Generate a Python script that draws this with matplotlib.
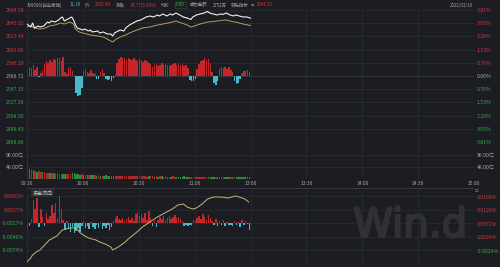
import matplotlib
matplotlib.use("Agg")
import matplotlib.pyplot as plt
import matplotlib.patheffects as pe

plt.rcParams['font.family'] = ['Noto Sans CJK SC', 'DejaVu Sans']

# ---------------- data ----------------
prev_close = 2566.72
price_ticks = [2664.58, 2645.01, 2625.44, 2605.86, 2586.29, 2566.72,
               2547.15, 2527.58, 2508.00, 2488.43, 2468.86]
price_labels = ["2664.58", "2645.02", "2625.44", "2605.86", "2586.28", "2566.72",
                "2547.15", "2527.58", "2508.00", "2488.43", "2468.86"]
pct_labels = ["3.81%", "3.05%", "2.29%", "1.53%", "0.76%", "0.00%",
              "0.76%", "1.53%", "2.29%", "3.05%", "3.81%"]

time_ticks = [0, 30, 60, 90, 120, 150, 180, 210, 240]
time_labels = ["09:30", "10:00", "10:30", "11:00", "13:00", "13:30", "14:00", "14:30", "15:00"]

price_t = [0, 2, 3, 4, 6, 7, 9, 10, 11, 12, 13, 15, 17, 18, 19, 20, 22, 24, 25, 26, 27,
           30, 31, 33, 34, 35, 38, 39, 41, 43, 45, 46, 47, 48, 50, 52, 53, 55, 57, 59,
           61, 62, 64, 66, 68, 70, 71, 73, 75, 77, 78, 80, 82, 84, 86, 88, 89, 91, 93,
           95, 97, 98, 100, 102, 104, 105, 107, 109, 111, 112, 114, 116, 118, 120]
price_v = [2643.8, 2639.4, 2645.3, 2637.9, 2640.9, 2639.4, 2640.9, 2643.8, 2646.8, 2645.3,
           2648.3, 2646.8, 2649.8, 2652.7, 2654.2, 2648.3, 2651.2, 2654.2, 2649.8, 2642.3,
           2637.9, 2634.9, 2636.4, 2633.4, 2634.9, 2632.0, 2633.4, 2630.5, 2632.0, 2629.0,
           2629.0, 2626.0, 2630.5, 2632.0, 2634.9, 2633.4, 2637.9, 2642.3, 2645.3, 2648.3,
           2649.8, 2651.2, 2654.2, 2655.7, 2654.2, 2657.2, 2655.7, 2658.7, 2655.7, 2658.7,
           2657.2, 2660.1, 2657.2, 2654.2, 2652.7, 2650.5, 2654.2, 2657.2, 2658.7, 2660.1,
           2662.4, 2660.1, 2658.7, 2657.2, 2658.7, 2658.0, 2660.1, 2657.2, 2655.7, 2657.2,
           2655.7, 2654.2, 2654.2, 2652.49]

lead_t = [0, 2, 4, 7, 10, 12, 15, 18, 20, 23, 25, 26, 28, 30, 34, 38, 41, 43, 46, 48,
          50, 53, 55, 59, 62, 66, 70, 73, 77, 80, 83, 86, 88, 90, 93, 97, 100, 104,
          107, 110, 113, 116, 120]
lead_v = [2639.4, 2640.9, 2637.9, 2636.4, 2637.9, 2640.9, 2642.3, 2645.3, 2643.8, 2646.8,
          2643.8, 2636.4, 2632.0, 2630.5, 2627.5, 2626.0, 2624.5, 2621.6, 2617.1, 2621.6,
          2624.5, 2627.5, 2630.5, 2634.9, 2637.9, 2639.4, 2642.3, 2643.8, 2646.0, 2648.3,
          2645.3, 2642.3, 2639.4, 2640.9, 2643.8, 2646.8, 2647.5, 2649.0, 2649.8, 2647.5,
          2646.0, 2643.8, 2641.55]

# strength bars around previous close (index points), one per minute 09:30-11:29
strength = [10, 14, 12, 16, 9, 13, -2, 4, 8,
            18, 22, 20, 24, 21, 25, 23, 26, 27, 22, 28,
            6, 3, 12, 14, 8, 2, -25, -30, -28, -18,
            8, 10, 6, 4, 9, 5, 3, -5, -4, 6, 11, 4,
            -4, -6, -5, -7, -3, 2,
            20, 25, 28, 27, 26, 24, 27, 25, 23, 26, 24, 22, 25, 23, 21, 24, 22, 20, 18,
            14, 16, 18, 15, 17, 19, 16, 18, 17, 15, 16, 18, 20, 17, 19, 16, 18, 15, 17, 12,
            -6, -8, -7, -4,
            10, 18, 22, 24, 26, 23, 25, 20, 6,
            -10, -13, -8,
            10, 13, 12, 14, 11, 13, 9, 6,
            -7, -12, -10, -5,
            5, 8, 7, 9, 6]

# volume (亿), one per minute
volume = [100, 42, 38, 35, 33, 30, 32, 28, 27, 29,
          26, 25, 24, 26, 23, 22, 24, 21, 22, 20,
          21, 19, 20, 22, 24, 23, 21, 20, 18, 19,
          18, 17, 16, 17, 15, 16, 15, 14, 15, 14,
          14, 13, 15, 14, 13, 12, 14, 13, 12, 13,
          12, 14, 13, 12, 11, 12, 13, 12, 11, 12,
          12, 11, 12, 11, 10, 11, 12, 11, 10, 11,
          10, 11, 12, 10, 11, 10, 9, 10, 11, 10,
          9, 10, 9, 10, 11, 10, 9, 10, 9, 10,
          10, 9, 10, 9, 8, 9, 10, 9, 8, 9,
          8, 9, 10, 8, 9, 8, 9, 8, 7, 8,
          9, 8, 7, 8, 9, 8, 7, 8, 7, 9]
volume_dir = ("RGRGRGRRGR" "RRGRGRRRRG" "GRRRGGGGGR" "GRGRGGRGRG" "RGGGGGGRRR"
              "RRRRRRRRRR" "RRRRRGRRGR" "GRGRRGRGRR" "GGGGGGGRRR" "RRRRRRRGGG"
              "GRGRRRGGGR" "GRGGGGGGGG")
vol_ticks = [96, 48]
vol_labels = ["96.00亿", "48.00亿"]

# fund flow bars (units of 0.0001%), one per minute
flow = [-16, -6, 8, 48, 30, 52, -8, 30, 12, -6,
        20, 8, 14, 38, 20, 42, 10, 56, 30, 6,
        -14, 4, -12, -18, -8, -20, -16, -10, -18, -6,
        4, -10, -6, -12, 3, -8, -12, -4, -10, 3,
        -12, -6, -10, -4, -14, -8, 4, 10, 14, 8,
        6, 10, 4, 8, 12, 6, 10, 4, 18, 22,
        14, 18, 10, 20, 6, 24, 10, -6, 4, -8,
        6, 12, 8, 14, 6, 10, 14, 8, 12, 16,
        10, 12, 8, 4, -6, -4, -6, -5, -4, 6,
        4, 10, 14, 8, 18, 12, 6, 16, 10, 4,
        -4, 8, -6, 4, -4, 6, -6, 3, -5, -4,
        -6, 4, -4, 3, -8, 6, -4, 5, -3, -14]
flow_ticks = [56, 28, 0, -28, -56]
flow_labels = ["0.0083%", "0.0027%", "-0.0027%", "-0.0040%", "-0.0074%"]

cum_t = [0, 2, 3, 5, 7, 9, 10, 12, 14, 16, 18, 19, 21, 23, 25, 27, 28, 31, 33, 37,
         39, 42, 45, 46, 49, 52, 55, 59, 62, 66, 70, 74, 78, 81, 84, 86, 89, 91, 94,
         97, 100, 104, 108, 112, 114, 117, 119]
cum_v = [-63.1, -48.9, -38.2, -27.6, -20.5, -6.2, 0.9, 15.1, 22.2, 29.3, 43.5, 50.7,
         54.2, 57.8, 57.8, 54.2, 43.5, 29.3, 22.2, 15.1, 8.0, 0.9, -9.8, -20.5, -9.8,
         4.4, 22.2, 43.5, 61.3, 79.1, 96.9, 111.1, 125.3, 139.6, 143.1, 132.4, 125.3,
         128.9, 143.1, 160.9, 168.0, 168.0, 164.4, 171.6, 168.0, 160.9, 150.2]
cum_ticks = [168, 120, 72, 24, -24]
cum_labels = ["0.0168%", "0.0120%", "0.0072%", "0.0024%", "-0.0024%"]

# ---------------- style ----------------
BG = "#1b1d22"
GRID = "#2a2d33"
MID = "#3c3f46"
RED_T = "#d6363d"
GRN_T = "#3aa84a"
GRAY_T = "#a8a8a8"
RED_B = "#c4262c"
CYAN_B = "#4ab8c6"
YEL = "#b99a5c"
WM = "#2f3136"

W, H = 500, 267
fig = plt.figure(figsize=(W / 100, H / 100), dpi=100, facecolor=BG)


def ax_at(x0, y0, x1, y1):
    a = fig.add_axes([x0 / W, 1 - y1 / H, (x1 - x0) / W, (y1 - y0) / H])
    a.set_facecolor(BG)
    for s in a.spines.values():
        s.set_visible(False)
    a.set_xlim(0, 240)
    return a


def vgrid(a):
    for t in time_ticks[1:-1]:
        a.axvline(t, color=GRID, lw=0.5, zorder=0)


FS = 3.7
HFS = 3.2

# ---- price panel ----
ax = ax_at(27, 10, 474, 142)
ax.set_ylim(price_ticks[-1], price_ticks[0])
for v in price_ticks:
    ax.axhline(v, color=MID if v in (prev_close, price_ticks[-1]) else GRID, lw=0.5, zorder=0)
vgrid(ax)
ax.bar(range(len(strength)), strength, bottom=prev_close, width=0.8, align='edge',
       color=[RED_B if s > 0 else CYAN_B for s in strength], linewidth=0, zorder=2)
ax.plot(lead_t, lead_v, color=YEL, lw=0.7, zorder=3)
ax.plot(price_t, price_v, color="#f2f2f2", lw=0.8, zorder=4)
ax.set_xticks([])
ax.set_yticks(price_ticks)
ax.set_yticklabels(price_labels)
ax.tick_params(axis='y', length=0, pad=2, labelsize=FS)
cols = [RED_T] * 5 + [GRAY_T] + [GRN_T] * 5
for lbl, c in zip(ax.get_yticklabels(), cols):
    lbl.set_color(c)
axr = ax.twinx()
for s in axr.spines.values():
    s.set_visible(False)
axr.set_ylim(ax.get_ylim())
axr.set_yticks(price_ticks)
axr.set_yticklabels(pct_labels)
axr.tick_params(axis='y', length=0, pad=2, labelsize=FS)
for lbl, c in zip(axr.get_yticklabels(), cols):
    lbl.set_color(c)

# ---- volume panel ----
av = ax_at(27, 142, 474, 179)
av.set_ylim(0, 148)
for v in vol_ticks:
    av.axhline(v, color=GRID, lw=0.5, zorder=0)
av.axhline(0, color=MID, lw=0.6, zorder=0)
vgrid(av)
av.bar(range(len(volume)), volume, width=0.8, align='edge',
       color=["#a8282c" if d == "R" else "#2d8a3c" for d in volume_dir], linewidth=0, zorder=2)
av.set_yticks(vol_ticks)
av.set_yticklabels(vol_labels)
av.tick_params(axis='y', length=0, pad=2, labelsize=FS, labelcolor=GRAY_T)
av.set_xticks(time_ticks)
av.set_xticklabels(time_labels)
av.tick_params(axis='x', length=0, pad=1.5, labelsize=3.5, labelcolor=GRAY_T)
avr = av.twinx()
for s in avr.spines.values():
    s.set_visible(False)
avr.set_ylim(av.get_ylim())
avr.set_yticks(vol_ticks)
avr.set_yticklabels(vol_labels)
avr.tick_params(axis='y', length=0, pad=2, labelsize=FS, labelcolor=GRAY_T)

# ---- fund flow panel ----
af = ax_at(27, 188, 474, 264)
af.set_ylim(-85, 72.6)
af.axhline(72.6, color=MID, lw=0.6)
for v in flow_ticks:
    af.axhline(v, color=GRID, lw=0.5, zorder=0)
vgrid(af)
# watermark inside the panel, behind the marks
af.text((410 - 27) / 447, 0.5, "Win.d", transform=af.transAxes, fontsize=29, color=WM,
        ha='center', va='center', family='DejaVu Sans', zorder=0.5,
        path_effects=[pe.withStroke(linewidth=1.6, foreground=WM)])
af.bar(range(len(flow)), flow, width=0.8, align='edge',
       color=[RED_B if f > 0 else CYAN_B for f in flow], linewidth=0, zorder=2)
af.set_xticks([])
af.set_yticks(flow_ticks)
af.set_yticklabels(flow_labels)
af.tick_params(axis='y', length=0, pad=2, labelsize=FS)
for lbl, c in zip(af.get_yticklabels(), [RED_T, RED_T, GRN_T, GRN_T, GRN_T]):
    lbl.set_color(c)
afr = af.twinx()
for s in afr.spines.values():
    s.set_visible(False)
afr.set_ylim(-70.3, 200)
afr.plot(cum_t, cum_v, color="#c8b578", lw=0.7, zorder=3)
afr.set_yticks(cum_ticks)
afr.set_yticklabels(cum_labels)
afr.tick_params(axis='y', length=0, pad=2, labelsize=FS)
for lbl, c in zip(afr.get_yticklabels(), [RED_T, RED_T, RED_T, RED_T, GRN_T]):
    lbl.set_color(c)
af.text(0.012, 0.93, "资金流向", transform=af.transAxes, fontsize=3.6, color="#c8c8c8",
        va='center', ha='left',
        bbox=dict(boxstyle="square,pad=0.25", fc="#2a2c31", ec="none"))
af.text(1.0, 0.97, "▫", transform=af.transAxes, fontsize=4, color="#8a8a8a",
        va='center', ha='left', family='DejaVu Sans')

# border lines
for a in (ax, av, af):
    a.axvline(240, color=MID, lw=0.6)
    a.axvline(0, color=GRID, lw=0.6)

# ---------------- header ----------------
hy = 1 - 5 / H
header = [
    (27, "399006(创业板指)", GRAY_T),
    (70, "11:30", "#4bb6c4"),
    (85, "价", GRAY_T),
    (95, "2652.49", RED_T),
    (116, "涨跌", GRAY_T),
    (131, "85.77(3.34%)", RED_T),
    (161, "均价", GRAY_T),
    (190, "成交金额", GRAY_T),
    (213, "2752万", GRAY_T),
    (231, "领先指标", GRAY_T),
    (257, "2641.55", RED_T),
]
for x, s, c in header:
    fig.text(x / W, hy, s, fontsize=HFS, color=c, ha='left', va='center')
fig.text(176 / W, hy, "0.00", fontsize=HFS, color=GRN_T, ha='left', va='center',
         bbox=dict(boxstyle="square,pad=0.2", fc="none", ec="#2c5e34", lw=0.4))
fig.text(251 / W, hy, "■", fontsize=2.5, color="#6a6a6a", ha='left', va='center',
         family='DejaVu Sans')
fig.text(473 / W, hy, "2022/03/10", fontsize=HFS, color=GRAY_T, ha='right', va='center')

fig.savefig("out.png", dpi=100, facecolor=BG)
